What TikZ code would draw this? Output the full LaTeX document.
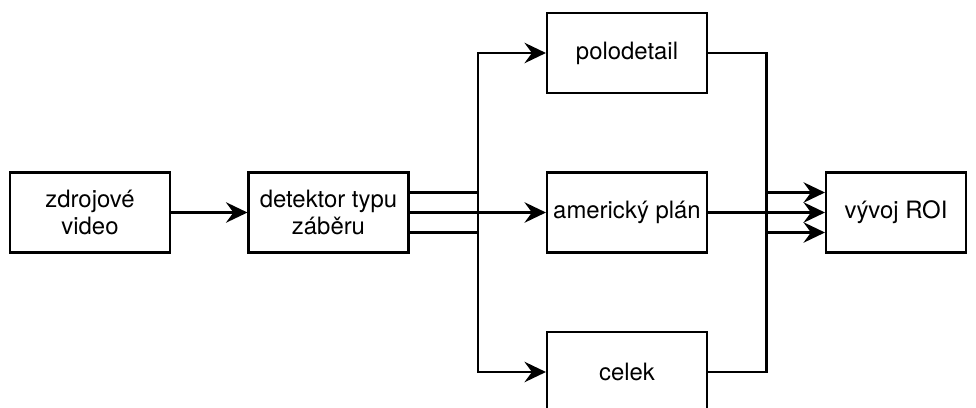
\documentclass[tikz,border=0pt]{standalone}
\usepackage{fontspec}
\setmainfont{TeX Gyre Heros}
\usetikzlibrary{calc}
\usetikzlibrary{positioning}
\usetikzlibrary{arrows.meta}

\begin{document}
\begin{tikzpicture}[%
  >={Stealth[length=4.3mm,width=4.1mm,inset=1.5mm]},
  line width=1.2pt,
  block/.style={draw, rectangle, minimum width=3.2cm, minimum height=1.6cm,
    align=center, font=\fontsize{13.6}{15.5}\selectfont},
]

  \clip (0,0) rectangle (19.52,-8.14);

  \node[block] (src) at (1.8,-4.25) {zdrojové\\video};
  \node[block] (det) at (6.57,-4.25) {detektor typu\\záběru};

  \node[block] (polo) at (12.54,-1.06) {polodetail};
  \node[block] (amer) at (12.54,-4.25) {americký plán};
  \node[block] (celek) at (12.54,-7.44) {celek};

  \node[block, minimum width=2.8cm] (roi) at (17.92,-4.25) {vývoj ROI};

  \draw[->] (src) -- (det);

  % split after the detector
  \coordinate (split) at ($(det.east)!0.5!(amer.west)$);
  \draw[->] ($(det.east)+(0,0.4)$) -| (split) |- (polo.west);
  \draw[->] (det.east) -- (amer.west);
  \draw[->] ($(det.east)+(0,-0.4)$) -| (split) |- (celek.west);

  % merge into ROI
  \coordinate (merge) at ($(amer.east)!0.5!(roi.west)$);
  \draw[->] (polo.east) -| (merge) |- ($(roi.west)+(0,0.4)$);
  \draw[->] (amer.east) -- (roi.west);
  \draw[->] (celek.east) -| (merge) |- ($(roi.west)+(0,-0.4)$);

\end{tikzpicture}
\end{document}
